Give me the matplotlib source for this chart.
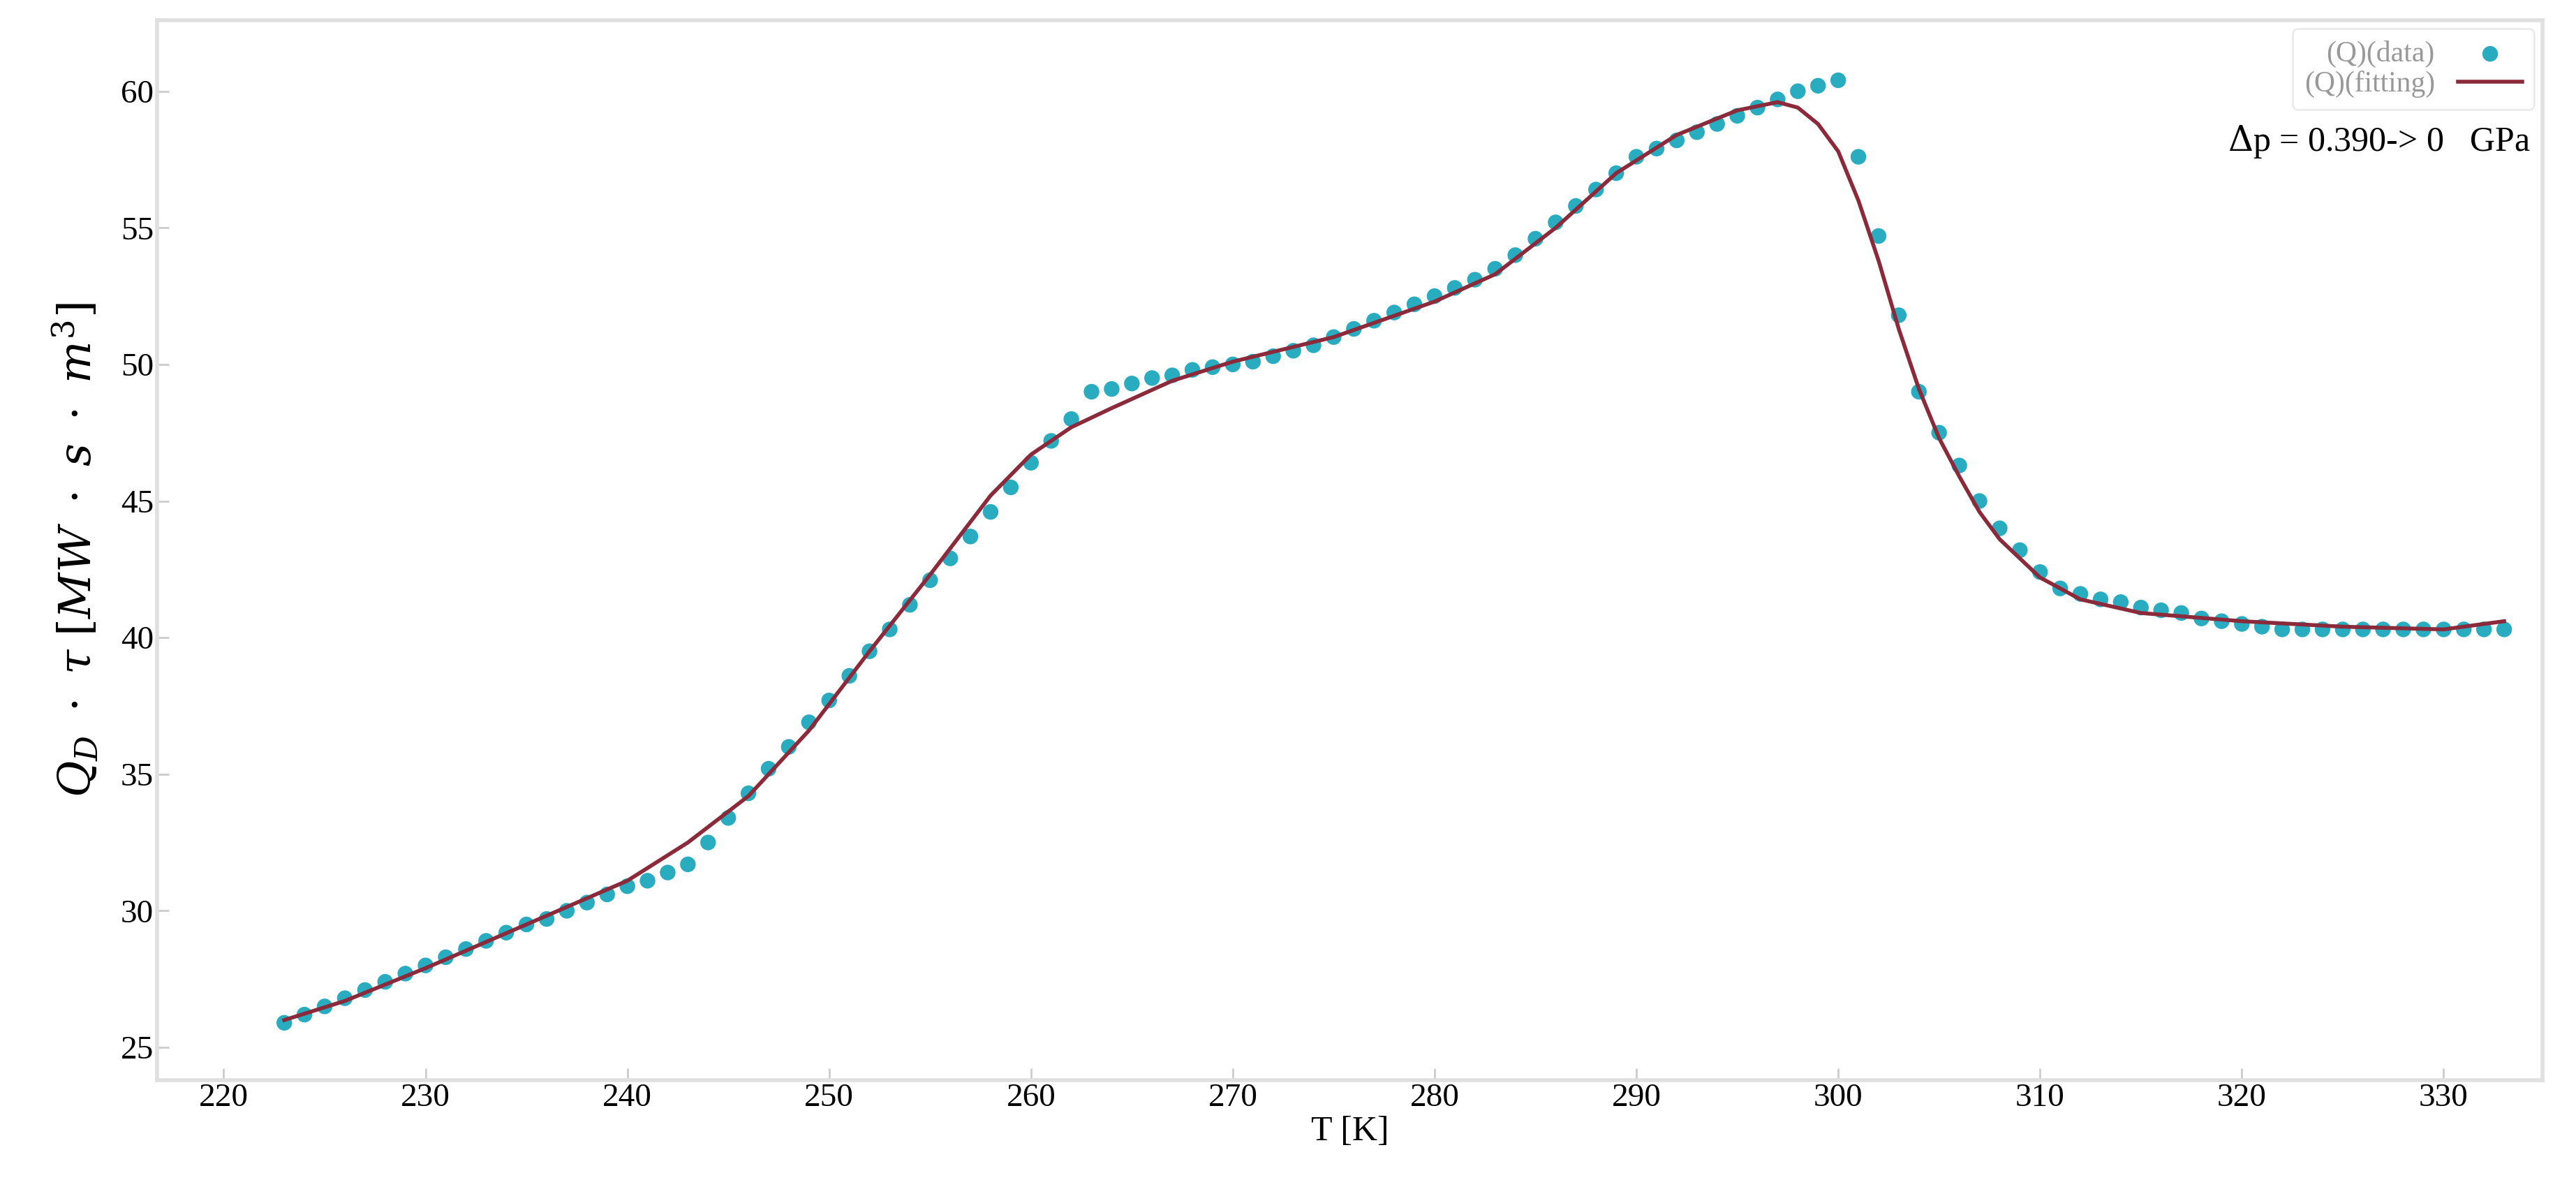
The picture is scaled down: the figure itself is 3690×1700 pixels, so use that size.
import numpy as np
import matplotlib.pyplot as plt

plt.rcParams['font.family'] = ['Liberation Serif', 'DejaVu Serif']
plt.rcParams['mathtext.fontset'] = 'dejavuserif'

# measured data, one point per kelvin
T_data = np.arange(223, 334)
Q_data = [25.9, 26.2, 26.5, 26.8, 27.1, 27.4, 27.7, 28.0, 28.3, 28.6,
          28.9, 29.2, 29.5, 29.7, 30.0, 30.3, 30.6, 30.9, 31.1, 31.4,
          31.7, 32.5, 33.4, 34.3, 35.2, 36.0, 36.9, 37.7, 38.6, 39.5,
          40.3, 41.2, 42.1, 42.9, 43.7, 44.6, 45.5, 46.4, 47.2, 48.0,
          49.0, 49.1, 49.3, 49.5, 49.6, 49.8, 49.9, 50.0, 50.1, 50.3,
          50.5, 50.7, 51.0, 51.3, 51.6, 51.9, 52.2, 52.5, 52.8, 53.1,
          53.5, 54.0, 54.6, 55.2, 55.8, 56.4, 57.0, 57.6, 57.9, 58.2,
          58.5, 58.8, 59.1, 59.4, 59.7, 60.0, 60.2, 60.4, 57.6, 54.7,
          51.8, 49.0, 47.5, 46.3, 45.0, 44.0, 43.2, 42.4, 41.8, 41.6,
          41.4, 41.3, 41.1, 41.0, 40.9, 40.7, 40.6, 40.5, 40.4, 40.3,
          40.3, 40.3, 40.3, 40.3, 40.3, 40.3, 40.3, 40.3, 40.3, 40.3,
          40.3]

# fitted curve
T_fit = [223, 226, 230, 235, 240, 243, 246, 249, 252, 255, 258, 260, 262,
         264, 267, 270, 275, 280, 283, 286, 289, 292, 295, 297, 298, 299,
         300, 301, 302, 303, 304, 305, 306, 307, 308, 310, 312, 315, 320,
         325, 330, 333]
Q_fit = [26.0, 26.7, 27.9, 29.5, 31.1, 32.5, 34.2, 36.6, 39.5, 42.3, 45.2,
         46.7, 47.7, 48.4, 49.4, 50.1, 51.0, 52.3, 53.3, 55.0, 57.0, 58.4,
         59.3, 59.6, 59.4, 58.8, 57.8, 56.0, 53.8, 51.3, 49.1, 47.3, 45.9,
         44.6, 43.6, 42.2, 41.4, 40.9, 40.6, 40.4, 40.3, 40.6]

fig = plt.figure(figsize=(36.9, 17), dpi=100)
ax = fig.add_axes([0.061, 0.09, 0.926, 0.893])

ax.scatter(T_data, Q_data, s=260, color='#12a3b8', alpha=0.9, zorder=2,
           label='(Q)(data)', edgecolors='none')
ax.plot(T_fit, Q_fit, color='#8b2a3a', lw=4, zorder=3, label='(Q)(fitting)')

ax.set_xlim(216.7, 334.9)
ax.set_ylim(23.8, 62.6)
ax.set_xticks(range(220, 331, 10))
ax.set_yticks(range(25, 61, 5))
ax.tick_params(direction='in', length=12, width=2, color='#cccccc',
               labelsize=34)
for s in ax.spines.values():
    s.set_color('#e0e0e0')
    s.set_linewidth(4)

ax.set_xlabel('T [K]', fontsize=36, labelpad=2)
ax.set_ylabel(r'$Q_D\ \cdot\ \tau\ [MW\ \cdot\ s\ \cdot\ m^3]$',
              fontsize=46, labelpad=20)

leg = ax.legend(loc='upper right', bbox_to_anchor=(1.0, 1.0), fontsize=30,
                frameon=True, markerfirst=False, labelcolor='#999999',
                handlelength=2.2, borderaxespad=0.3, labelspacing=0.1,
                borderpad=0.4)
leg.get_frame().set_edgecolor('#e6e6e6')
leg.get_frame().set_linewidth(2)
leg.legend_handles[0].set_sizes([260])
leg.set_zorder(1)

ax.text(0.995, 0.885, r'$\Delta$p = 0.390-> 0   GPa', transform=ax.transAxes,
        ha='right', va='center', fontsize=36)

plt.savefig('out.png', dpi=100)
